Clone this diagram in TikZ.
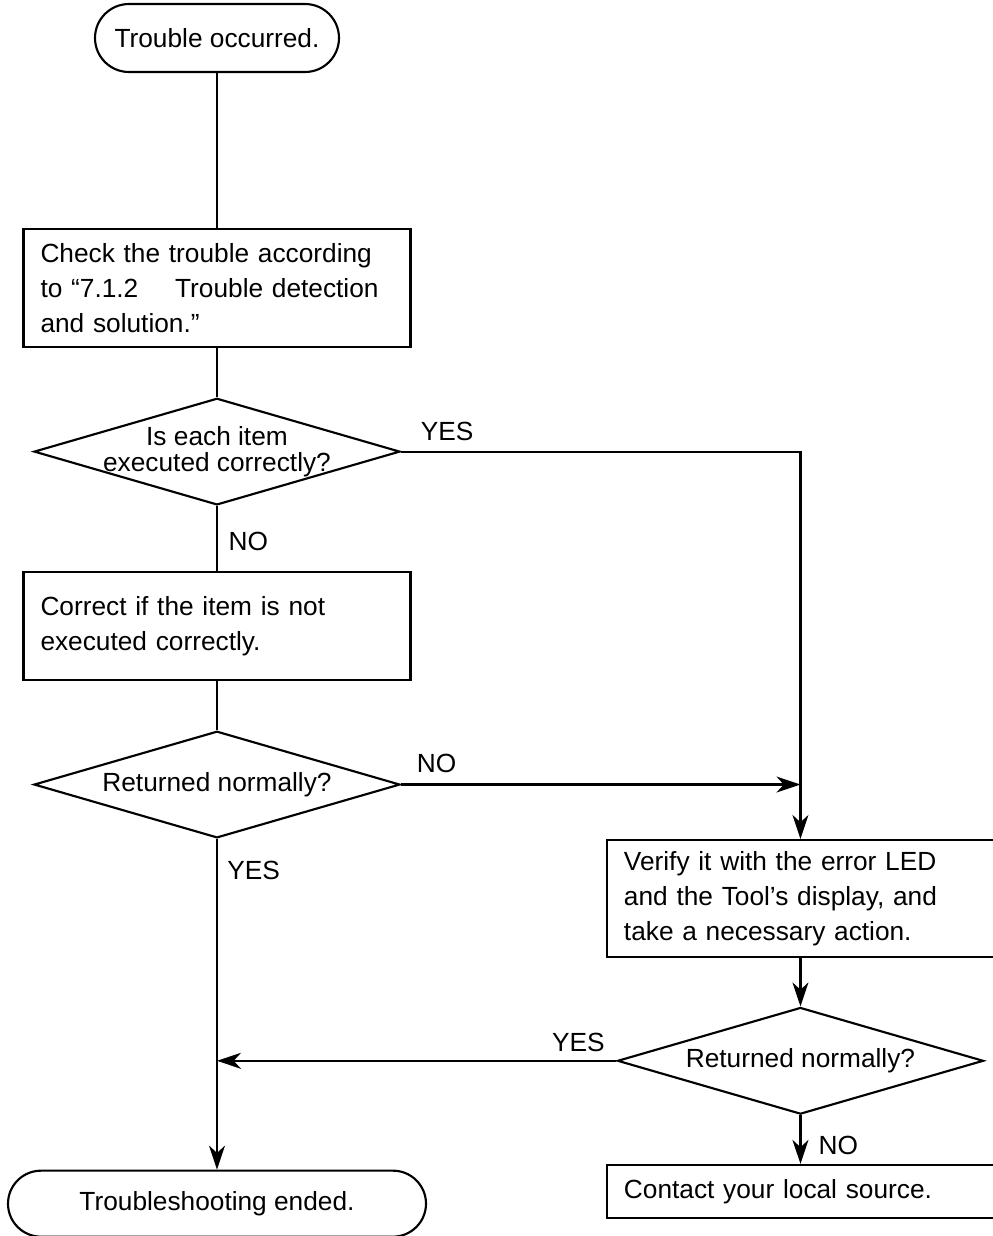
\documentclass[tikz,border=0pt]{standalone}
\usepackage{fontspec}
\setmainfont{Liberation Sans}
\usetikzlibrary{arrows.meta,positioning,shapes.geometric,calc}

\begin{document}
\begin{tikzpicture}[x=0.75pt,y=-0.75pt,line width=1.6pt,
   font=\fontsize{19.7pt}{26.25pt}\selectfont,
   term/.style={draw,rounded corners=25.5pt,minimum width=183pt,
                minimum height=51pt,align=center},
   proc/.style={draw,text width=264.75pt,inner xsep=12.75pt,align=left},
   dec/.style={draw,diamond,aspect=3.42,minimum width=274.5pt,
               minimum height=80pt,inner xsep=0pt,inner ysep=-5pt,align=center,
               font=\fontsize{19.7pt}{19.5pt}\selectfont},
   lbl/.style={inner sep=0pt,anchor=base west},
   arr/.style={-{Stealth[length=18pt,width=12pt,inset=5.5pt]}}]
  \useasboundingbox (0,0) rectangle (993,1236);
  % left column
  \node[term] (t1) at (217,38) {Trouble occurred.};
  \node[proc,minimum height=88.5pt,below=116pt of t1] (b1)
       {Check the trouble according\\to “7.1.2\hspace{1.4em}Trouble detection\\and solution.”};
  \node[dec,below=37pt of b1] (d1) {Is each item\\executed correctly?};
  \node[proc,minimum height=81pt,below=49pt of d1] (b2)
       {Correct if the item is not\\executed correctly.};
  \node[dec,below=36.5pt of b2] (d2) {Returned normally?};
  \node[term,minimum width=313.5pt,minimum height=49.5pt,rounded corners=24.75pt,
        below=248pt of d2] (t2) {Troubleshooting ended.};
  % right column
  \node[proc,minimum height=88pt,anchor=north] (b3) at ([shift={(437.6pt,0pt)}]d2.south)
       {Verify it with the error LED\\and the Tool’s display, and\\take a necessary action.};
  \node[dec,below=36pt of b3] (d3) {Returned normally?};
  \node[proc,minimum height=40pt,below=36.5pt of d3] (b4) {Contact your local source.};
  \coordinate (j1) at (b3.north |- d2.east);
  \coordinate (j2) at (d2.south |- d3.west);
  % connectors
  \draw (t1) -- (b1);
  \draw (b1) -- (d1);
  \draw (d1) -- (b2);
  \draw (b2) -- (d2);
  \draw[arr] (d1.east) -| (b3.north);
  \draw[arr] (d2.east) -- (j1);
  \draw[arr] (d2.south) -- (t2.north);
  \draw[arr] (b3) -- (d3);
  \draw[arr] (d3.west) -- (j2);
  \draw[arr] (d3) -- (b4);
  % branch labels
  \node[lbl] (yes1) at ([shift={(14pt,8pt)}]d1.east) {YES};
  \node[lbl] (no1) at ([shift={(8pt,-33pt)}]d1.south) {NO};
  \node[lbl] (no2) at ([shift={(11pt,9.4pt)}]d2.east) {NO};
  \node[lbl] (yes2) at ([shift={(7pt,-30.4pt)}]d2.south) {YES};
  \node[lbl,anchor=base east] (yes3) at ([shift={(-8pt,7pt)}]d3.west) {YES};
  \node[lbl] (no3) at ([shift={(12.75pt,-29.6pt)}]d3.south) {NO};
\end{tikzpicture}
\end{document}
